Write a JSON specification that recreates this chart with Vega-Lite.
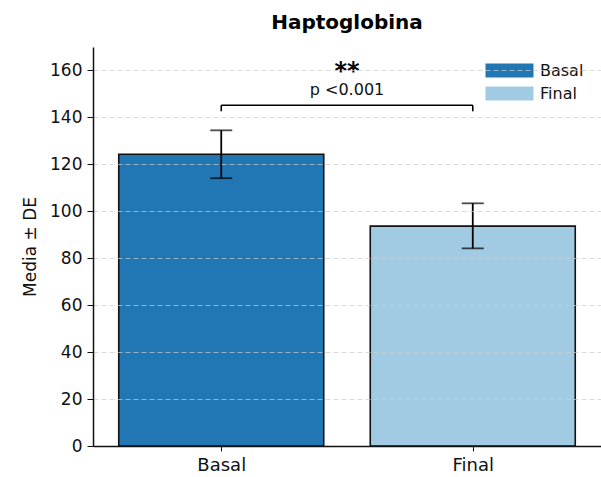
{
  "$schema": "https://vega.github.io/schema/vega-lite/v6.json",
  "width": 508,
  "height": 399,
  "autosize": "none",
  "padding": {"left": 93, "top": 47, "right": 0, "bottom": 31},
  "config": {
    "font": "DejaVu Sans",
    "view": {"stroke": null},
    "axis": {"labelFont": "DejaVu Sans", "titleFont": "DejaVu Sans", "labelColor": "#111", "titleColor": "#111", "domainColor": "#111", "tickColor": "#111"}
  },
  "title": {"text": "Haptoglobina", "fontSize": 20, "fontWeight": "bold", "color": "#000", "offset": 14, "anchor": "middle"},
  "datasets": {
    "bars": [
      {"group": "Basal", "idx": 0, "mean": 124.3, "lo": 114.1, "hi": 134.5},
      {"group": "Final", "idx": 1, "mean": 93.7, "lo": 84.2, "hi": 103.4}
    ],
    "bracket": [
      {"x": 0, "x2": 1, "y": 145.2, "y2": 145.2},
      {"x": 0, "x2": 0, "y": 142.6, "y2": 145.2},
      {"x": 1, "x2": 1, "y": 142.6, "y2": 145.2}
    ],
    "labels": [
      {"x": 0.5, "y": 159.5, "label": "**", "kind": "stars"},
      {"x": 0.5, "y": 151.5, "label": "p <0.001", "kind": "p"}
    ]
  },
  "layer": [
    {
      "data": {"name": "bars"},
      "mark": {"type": "bar", "width": 205, "stroke": "#111", "strokeWidth": 1.6},
      "encoding": {
        "x": {"field": "idx", "type": "quantitative", "scale": {"domain": [-0.49, 1.49], "nice": false, "zero": false},
          "axis": {"values": [0, 1], "labelExpr": "datum.value == 0 ? 'Basal' : 'Final'", "title": null, "grid": false, "labelFontSize": 18, "labelPadding": 5, "tickSize": 5, "domainWidth": 1.5, "labelFlush": false, "zindex": 2}},
        "y": {"field": "mean", "type": "quantitative", "scale": {"domain": [0, 170], "nice": false},
          "axis": {"values": [0, 20, 40, 60, 80, 100, 120, 140, 160], "title": "Media ± DE", "titleFontSize": 17, "titleFontWeight": "normal", "titlePadding": 10, "labelFontSize": 17, "labelPadding": 5, "tickSize": 6, "domainWidth": 1.5, "grid": true, "gridDash": [5, 3], "gridColor": "#cccccc", "gridOpacity": 0.7, "zindex": 1}},
        "color": {"field": "group", "type": "nominal", "scale": {"domain": ["Basal", "Final"], "range": ["#2077b4", "#a0cbe2"]},
          "legend": {"title": null, "orient": "none", "legendX": 402, "legendY": 9, "padding": 0, "symbolType": "M-1.7,-0.5H1.7V0.5H-1.7Z", "symbolSize": 797, "symbolStrokeWidth": 0, "labelFontSize": 16, "labelOffset": 16, "rowPadding": -3, "labelColor": "#111"}}
      }
    },
    {
      "data": {"name": "bars"},
      "mark": {"type": "rule", "color": "#000", "strokeWidth": 1.8},
      "encoding": {
        "x": {"field": "idx", "type": "quantitative"},
        "y": {"field": "lo", "type": "quantitative"},
        "y2": {"field": "hi"}
      }
    },
    {
      "data": {"name": "bars"},
      "mark": {"type": "tick", "orient": "horizontal", "color": "#000", "size": 22, "thickness": 1.8},
      "encoding": {
        "x": {"field": "idx", "type": "quantitative"},
        "y": {"field": "lo", "type": "quantitative"}
      }
    },
    {
      "data": {"name": "bars"},
      "mark": {"type": "tick", "orient": "horizontal", "color": "#000", "size": 22, "thickness": 1.8},
      "encoding": {
        "x": {"field": "idx", "type": "quantitative"},
        "y": {"field": "hi", "type": "quantitative"}
      }
    },
    {
      "data": {"name": "bracket"},
      "mark": {"type": "rule", "color": "#000", "strokeWidth": 1.6},
      "encoding": {
        "x": {"field": "x", "type": "quantitative"},
        "x2": {"field": "x2"},
        "y": {"field": "y", "type": "quantitative"},
        "y2": {"field": "y2"}
      }
    },
    {
      "data": {"name": "labels"},
      "transform": [{"filter": "datum.kind == 'stars'"}],
      "mark": {"type": "text", "fontSize": 24, "fontWeight": "bold", "color": "#000", "baseline": "middle", "align": "center"},
      "encoding": {
        "x": {"field": "x", "type": "quantitative"},
        "y": {"field": "y", "type": "quantitative"},
        "text": {"field": "label"}
      }
    },
    {
      "data": {"name": "labels"},
      "transform": [{"filter": "datum.kind == 'p'"}],
      "mark": {"type": "text", "fontSize": 16, "color": "#111", "baseline": "middle", "align": "center"},
      "encoding": {
        "x": {"field": "x", "type": "quantitative"},
        "y": {"field": "y", "type": "quantitative"},
        "text": {"field": "label"}
      }
    }
  ]
}
